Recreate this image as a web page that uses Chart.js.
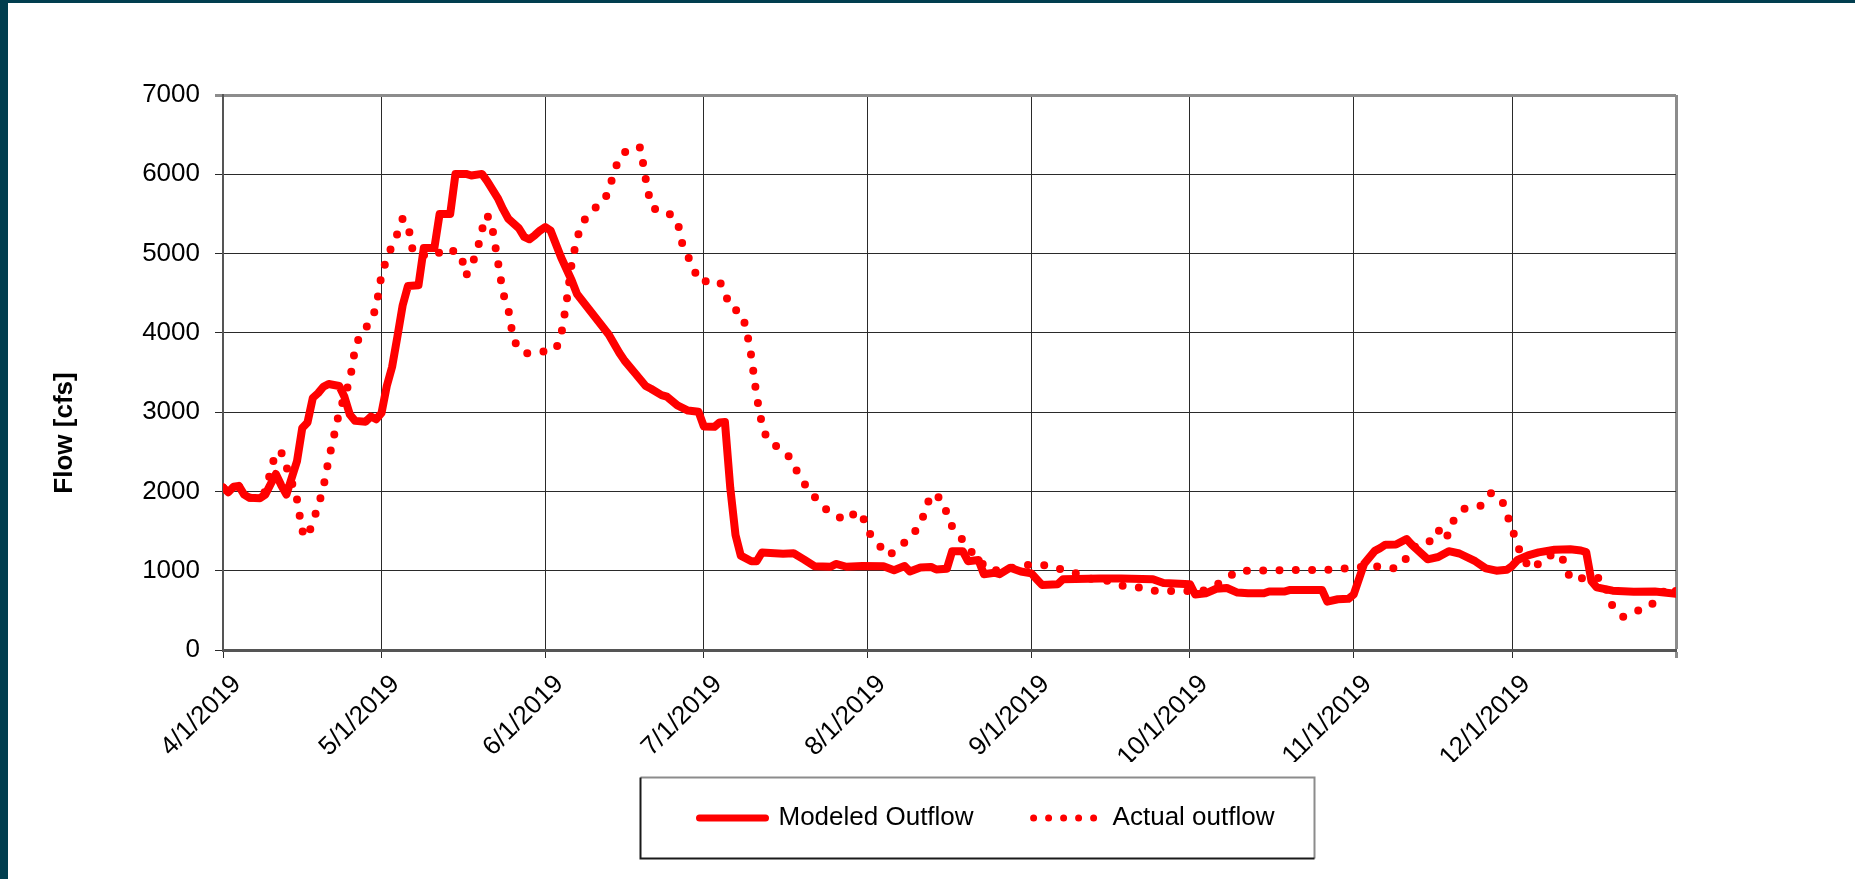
<!DOCTYPE html>
<html>
<head>
<meta charset="utf-8">
<title>Flow [cfs]</title>
<script src="https://cdn.jsdelivr.net/npm/chart.js@4.4.1/dist/chart.umd.min.js"></script>
<style>
    html, body { margin: 0; padding: 0; background: #fff; overflow: hidden; }
    #wrap { position: absolute; left: 0; top: 0; width: 1855px; height: 879px; }
    .edge { position: absolute; background: #013e4f; z-index: 2; }
    #edgeLeft { left: 0; top: 0; width: 8px; height: 879px; }
    #edgeTop { left: 0; top: 0; width: 1855px; height: 3px; }
</style>
</head>
<body>
<div id="wrap"><canvas id="flowChart"></canvas></div>
<div class="edge" id="edgeLeft"></div>
<div class="edge" id="edgeTop"></div>
<script>
// days counted from 4/1/2019
var monthStartDays = [0, 30, 61, 91, 122, 153, 183, 214, 244, 275];
var xTickLabels = ["4/1/2019", "5/1/2019", "6/1/2019", "7/1/2019", "8/1/2019", "9/1/2019", "10/1/2019", "11/1/2019", "12/1/2019", ""];
var yTicks = [0, 1000, 2000, 3000, 4000, 5000, 6000, 7000];

var modeledDays = [0, 1, 2, 3, 4, 5, 7, 8, 10, 11, 12, 14, 15, 16, 17, 18, 19, 20, 22, 23, 24, 25, 27, 28, 29, 30,
    31, 32, 33, 34, 35, 37, 38, 40, 41, 43, 44, 46, 47, 49, 50, 52, 53, 54, 55, 56, 57, 58, 59, 60,
    61, 62, 64, 66, 67, 69, 71, 73, 75, 76, 78, 80, 81, 83, 84, 86, 88, 90,
    91, 93, 94, 95, 96, 97, 98, 100, 101, 102, 106, 108, 110, 112, 115, 116, 118, 121,
    125, 127, 129, 130, 132, 134, 135, 137, 138, 140, 141, 143, 144, 146, 147, 149, 151,
    153, 154, 155, 158, 159, 166, 170, 176, 178, 183,
    184, 186, 188, 190, 192, 194, 197, 198, 201, 202, 208, 209, 211, 213,
    214, 216, 218, 219, 220, 222, 224, 225, 228, 230, 232, 234, 237, 239, 241, 243,
    244, 245, 247, 249, 252, 255, 257, 258, 259, 260, 263, 267, 271, 275];
var modeledFlow = [2050, 1990, 2060, 2070, 1960, 1920, 1915, 1960, 2220, 2080, 1960, 2380, 2800, 2870, 3180, 3240, 3320, 3355, 3330, 3190, 2970, 2890, 2880, 2945, 2910, 2990,
    3330, 3570, 3950, 4345, 4590, 4600, 5070, 5070, 5500, 5500, 6005, 6005, 5985, 6005, 5915, 5700, 5560, 5440, 5380, 5320, 5210, 5180, 5230, 5290,
    5335, 5290, 4950, 4660, 4490, 4320, 4150, 3980, 3750, 3650, 3490, 3330, 3295, 3215, 3195, 3085, 3020, 3005,
    2820, 2815, 2870, 2875, 2050, 1450, 1190, 1120, 1120, 1230, 1215, 1220, 1140, 1055, 1050, 1085, 1050, 1060,
    1055, 1005, 1060, 990, 1040, 1048, 1015, 1025, 1245, 1246, 1120, 1135, 956, 975, 956, 1038, 990,
    966, 893, 821, 830, 893, 903, 903, 893, 845, 830,
    700, 715, 772, 782, 724, 715, 715, 739, 739, 758, 758, 610, 640, 645,
    700, 1090, 1250, 1285, 1328, 1330, 1400, 1328, 1144, 1173, 1246, 1217, 1120, 1030, 1000, 1012,
    1060, 1135, 1193, 1231, 1265, 1270, 1255, 1235, 869, 790, 748, 734, 739, 710];

var actualDays = [0, 3, 5, 7, 8, 9, 10, 11, 12, 13, 14, 15, 16, 17, 18, 19, 20, 21, 22, 24, 25, 26, 28, 29, 30,
    31, 32, 33, 34, 35, 36, 40, 42, 45, 46, 48, 49, 50, 51, 52, 53, 54, 55, 57, 60,
    63, 64, 65, 66, 67, 68, 70, 72, 73, 74, 75, 77, 79, 80, 81, 82, 84, 86, 87, 89, 90,
    94, 95, 96, 98, 99, 100, 101, 102, 103, 105, 107, 108, 110, 111, 113, 115, 118, 120,
    121, 122, 124, 126, 128, 130, 132, 133, 134, 136, 137, 138, 140, 142, 143, 145, 148, 151,
    155, 158, 161, 164, 167, 170, 173, 176, 179, 182, 185, 187, 190, 192, 195, 198, 201,
    204, 207, 210, 213, 216, 219, 222, 224, 225, 228, 230, 231, 232, 233, 235, 238, 240,
    242, 243, 244, 245, 246, 248, 250, 253, 254, 255, 258, 261, 263, 265, 267, 270, 272, 274, 275];
var actualFlow = [2050, 2060, 1920, 1920, 2000, 2250, 2500, 2500, 2310, 2120, 1900, 1500, 1420, 1620, 1810, 2050, 2400, 2700, 3000, 3400, 3800, 3990, 4140, 4330, 4730,
    4940, 5100, 5250, 5440, 5370, 5000, 4965, 5070, 5000, 4720, 5000, 5300, 5490, 5310, 4910, 4500, 4300, 3900, 3740, 3756,
    3790, 3970, 4380, 4880, 5190, 5390, 5560, 5640, 5800, 6020, 6214, 6334, 6339, 5943, 5600, 5550, 5530, 5410, 5100, 4830, 4650,
    4650, 4510, 4316, 4263, 4070, 3700, 3200, 2850, 2650, 2559, 2448, 2327, 2100, 2013, 1844, 1724, 1632, 1753,
    1699, 1502, 1333, 1188, 1304, 1410, 1588, 1777, 1970, 1907, 1724, 1555, 1386, 1207, 1140, 1000, 1010, 1070,
    1077, 1028, 980, 900, 880, 811, 792, 748, 744, 744, 740, 780, 903, 999, 999, 1004, 1009,
    1009, 1009, 1014, 1033, 1050, 1053, 1028, 1159, 1294, 1337, 1521, 1386, 1463, 1651, 1782, 1820, 1979,
    1897, 1714, 1521, 1328, 1135, 1014, 1173, 1217, 1086, 893, 908, 908, 550, 420, 483, 541, 700, 806, 740];

var LEGEND_PAD = 60;
var LEGEND_FONT = 26;

function toPoints(days, flows) {
    return days.map(function (d, i) { return { x: d, y: flows[i] }; });
}

// legend sits left of centre in a framed box, y title is drawn lower than the plot centre
var framePlugin = {
    id: "frame",
    afterLayout: function (chart) {
        var lg = chart.legend;
        if (!lg || !lg.lineWidths) return;
        var start = (lg.left + LEGEND_PAD + lg.right - lg.lineWidths[0]) / 2;
        var dx = 699.5 - start;
        var dy = 818 - (lg.top + LEGEND_PAD + LEGEND_FONT / 2);
        lg.left += dx;
        lg.right += dx;
        lg.top += dy;
        lg.bottom += dy;
    },
    afterDraw: function (chart) {
        var ctx = chart.ctx,
            hb = chart.legend.legendHitBoxes;
        if (hb && hb.length) {
            var l = Math.round(hb[0].left - 59.5) + 0.5,
                r = Math.round(hb[hb.length - 1].left + hb[hb.length - 1].width + 40) + 0.5,
                t = Math.round(hb[0].top - 28) + 0.5,
                b = Math.round(hb[0].top + hb[0].height + 27) + 0.5;
            ctx.save();
            ctx.lineWidth = 2;
            ctx.strokeStyle = "#8c8c8c";
            ctx.beginPath();
            ctx.moveTo(l, t); ctx.lineTo(r, t); ctx.lineTo(r, b);
            ctx.stroke();
            ctx.strokeStyle = "#1a1a1a";
            ctx.beginPath();
            ctx.moveTo(l, t); ctx.lineTo(l, b); ctx.lineTo(r, b);
            ctx.stroke();
            ctx.restore();
        }
        ctx.save();
        ctx.translate(65, 433);
        ctx.rotate(-Math.PI / 2);
        ctx.font = "bold 26px 'Liberation Sans', Arial, sans-serif";
        ctx.fillStyle = "#000";
        ctx.textAlign = "center";
        ctx.textBaseline = "middle";
        ctx.fillText("Flow [cfs]", 0, 0);
        ctx.restore();
    }
};

Chart.defaults.font.family = "'Liberation Sans', Arial, sans-serif";
Chart.defaults.color = "#000";

new Chart(document.getElementById("flowChart"), {
    type: "line",
    data: {
        datasets: [{
            label: "Modeled Outflow",
            data: toPoints(modeledDays, modeledFlow),
            borderColor: "#ff0000",
            backgroundColor: "#ff0000",
            borderWidth: 8,
            borderCapStyle: "round",
            borderJoinStyle: "round",
            pointRadius: 0,
            tension: 0
        }, {
            label: "Actual outflow",
            data: toPoints(actualDays, actualFlow),
            borderColor: "#ff0000",
            backgroundColor: "#ff0000",
            borderWidth: 8,
            borderDash: [0, 16.3],
            borderCapStyle: "round",
            borderJoinStyle: "round",
            pointRadius: 0,
            tension: 0
        }]
    },
    options: {
        responsive: true,
        maintainAspectRatio: false,
        animation: false,
        layout: { padding: { top: 95, right: 179, bottom: 21, left: 0 } },
        plugins: {
            tooltip: { enabled: false },
            legend: {
                position: "bottom",
                labels: {
                    font: { size: LEGEND_FONT },
                    color: "#000",
                    usePointStyle: true,
                    pointStyleWidth: 66,
                    boxHeight: 7,
                    padding: LEGEND_PAD,
                    generateLabels: function (chart) {
                        return chart.data.datasets.map(function (ds, i) {
                            return {
                                text: ds.label,
                                datasetIndex: i,
                                pointStyle: "line",
                                strokeStyle: ds.borderColor,
                                fillStyle: ds.borderColor,
                                lineWidth: 7,
                                lineDash: ds.borderDash ? [0, 15] : [],
                                lineCap: "round",
                                hidden: false
                            };
                        });
                    }
                }
            }
        },
        scales: {
            x: {
                type: "linear",
                min: 0,
                max: 275,
                afterBuildTicks: function (scale) {
                    scale.ticks = monthStartDays.map(function (d) { return { value: d }; });
                },
                afterFit: function (scale) { scale.height = 112; },
                ticks: {
                    autoSkip: false,
                    minRotation: 45,
                    maxRotation: 45,
                    labelOffset: 14,
                    padding: 11,
                    font: { size: 26 },
                    color: "#000",
                    callback: function (v, i) { return xTickLabels[i]; }
                },
                grid: {
                    color: function (c) { return c.tick && c.tick.value === 275 ? "#8c8c8c" : "#2a2a2a"; },
                    lineWidth: function (c) { return c.tick && c.tick.value === 275 ? 3 : 1; },
                    tickLength: 8
                },
                border: { color: "#555", width: 3 }
            },
            y: {
                min: 0,
                max: 7000,
                afterBuildTicks: function (scale) {
                    scale.ticks = yTicks.map(function (v) { return { value: v }; });
                },
                afterFit: function (scale) { scale.width = 223; },
                ticks: {
                    padding: 15,
                    font: { size: 26 },
                    color: "#000",
                    callback: function (v) { return String(v); }
                },
                grid: {
                    color: function (c) { return c.tick && c.tick.value === 7000 ? "#8c8c8c" : "#2a2a2a"; },
                    lineWidth: function (c) { return c.tick && c.tick.value === 7000 ? 3 : 1; },
                    tickLength: 8
                },
                border: { color: "#555", width: 2 }
            }
        }
    },
    plugins: [framePlugin]
});
</script>
</body>
</html>
